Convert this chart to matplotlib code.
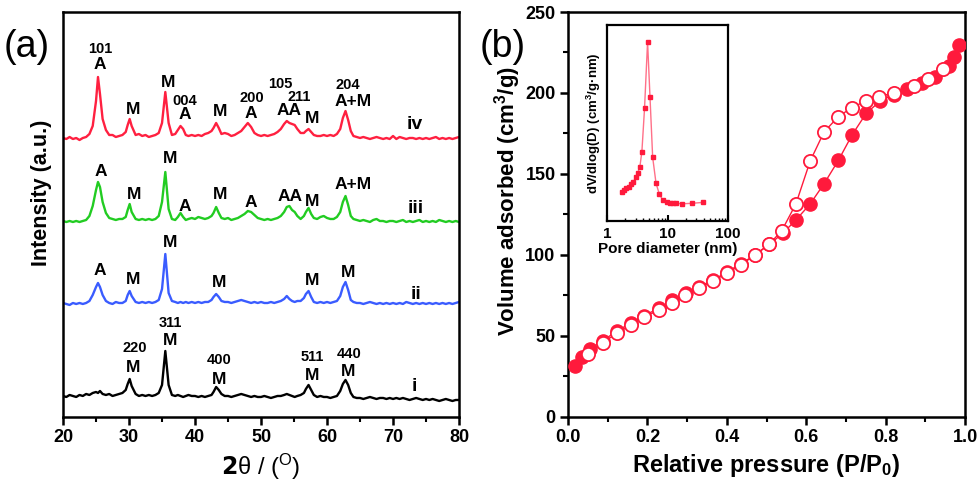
import numpy as np
import matplotlib
import matplotlib.pyplot as plt
from matplotlib.ticker import MultipleLocator, LogLocator, NullFormatter, NullLocator

matplotlib.use("Agg")

plt.rcParams["font.family"] = ["Liberation Sans", "DejaVu Sans"]
plt.rcParams["font.weight"] = "bold"
plt.rcParams["mathtext.default"] = "regular"
plt.rcParams["axes.linewidth"] = 1.8

# ---- (a) XRD patterns, intensity above each baseline (a.u.) ----
two_theta = [
    20.0, 20.5, 21.0, 21.5, 22.0, 22.5, 23.0, 23.5, 24.0, 24.5,
    25.0, 25.3, 25.6, 26.0, 26.5, 27.0, 27.5, 28.0, 28.5, 29.0, 29.5,
    29.8, 30.1, 30.4, 31.0, 31.5, 32.0, 32.5, 33.0, 33.5, 34.0, 34.5, 35.0,
    35.5, 36.0, 36.5, 37.0, 37.4, 37.8, 38.2, 38.6, 39.0, 39.5,
    40.0, 40.5, 41.0, 41.5, 42.0, 42.5, 42.8, 43.2, 43.6, 44.0, 44.5,
    45.0, 45.5, 46.0, 46.5, 47.0, 47.5, 48.0, 48.5, 49.0, 49.5,
    50.0, 50.5, 51.0, 51.5, 52.0, 52.5, 53.0, 53.5, 53.9, 54.3, 54.7,
    55.1, 55.5, 56.0, 56.5, 56.8, 57.2, 57.6, 58.0, 58.5, 59.0, 59.5,
    60.0, 60.5, 61.0, 61.5, 62.0, 62.4, 62.8, 63.2, 63.6, 64.0, 64.5,
    65.0, 65.5, 66.0, 66.5, 67.0, 67.5, 68.0, 68.5, 69.0, 69.5,
    70.0, 70.5, 71.0, 71.5, 72.0, 72.5, 73.0, 73.5, 74.0, 74.5,
    75.0, 75.5, 76.0, 76.5, 77.0, 77.5, 78.0, 78.5, 79.0, 79.5, 80.0,
]

xrd_iv = [
    1, 0, 2, 0, 1, -1, 1, 2, 5, 13,
    38, 62, 45, 20, 9, 4, 4, 2, 3, 4, 7,
    14, 20, 13, 4, 5, 3, 4, 2, 3, 4, 6, 16,
    47, 16, 4, 5, 9, 13, 10, 4, 3, 4,
    3, 4, 3, 5, 6, 8, 11, 16, 11, 5, 6,
    5, 3, 4, 6, 8, 12, 16, 12, 6, 4,
    3, 4, 3, 4, 5, 7, 10, 15, 18, 16, 15,
    14, 10, 6, 6, 8, 10, 7, 4, 3, 3, 4,
    3, 4, 3, 5, 10, 21, 28, 19, 8, 3, 2,
    1, 2, 1, 0, 1, 2, 1, 0, 1, 0,
    3, 0, 2, 1, 0, 1, 1, 0, 1, 0,
    1, 0, 1, 2, 0, 1, 0, 1, 0, 1, 2,
]

xrd_iii = [
    1, 0, 1, 0, 1, 0, 1, 2, 6, 16,
    32, 40, 35, 20, 9, 4, 3, 2, 3, 3, 5,
    12, 18, 10, 3, 2, 3, 2, 3, 2, 3, 6, 20,
    50, 13, 3, 2, 5, 9, 5, 2, 3, 4,
    3, 5, 4, 3, 4, 6, 9, 15, 9, 4, 3,
    4, 2, 3, 4, 6, 8, 11, 10, 7, 4,
    3, 2, 3, 2, 3, 4, 6, 10, 15, 16, 12,
    10, 6, 3, 6, 10, 14, 8, 4, 3, 5, 6,
    4, 3, 3, 5, 10, 20, 26, 17, 6, 3, 2,
    1, 2, 1, 0, 2, 3, 1, 1, 0, 1,
    1, 0, 1, 2, 0, 1, 0, 1, 2, 0,
    1, 0, 1, 0, 2, 1, 0, 1, 0, 1, 0,
]

xrd_ii = [
    1, 0, -1, 1, 0, 1, 0, 1, 3, 9,
    17, 21, 17, 9, 3, 1, 0, 2, 1, 1, 3,
    9, 13, 8, 2, 1, 2, 1, 2, 1, 2, 4, 15,
    50, 11, 3, 2, 1, 2, 1, 2, 1, 2,
    1, 2, 1, 2, 2, 4, 7, 10, 7, 3, 2,
    2, 1, 2, 3, 4, 3, 2, 1, 2, 1,
    2, 1, 1, 2, 1, 2, 3, 5, 8, 5, 3,
    2, 3, 3, 6, 10, 13, 7, 2, 1, 2, 1,
    2, 1, 2, 3, 8, 17, 22, 14, 4, 2, 1,
    1, 0, 1, 2, 1, 0, 1, 0, 1, 0,
    1, 0, 1, 0, 2, 1, 0, 1, 0, 1,
    0, 1, 0, 1, 0, 1, 0, 1, 0, 1, 2,
]

xrd_i = [
    2, 1, 3, 2, 1, 3, 2, 4, 3, 5,
    6, 5, 7, 4, 3, 4, 2, 3, 4, 5, 8,
    14, 19, 12, 4, 2, 3, 2, 3, 2, 3, 5, 13,
    47, 13, 3, 2, 3, 2, 1, 2, 3, 2,
    2, 1, 2, 1, 2, 3, 6, 11, 8, 4, 2,
    2, 1, 2, 3, 4, 3, 2, 1, 2, 1,
    1, 2, 1, 0, 1, 2, 2, 3, 4, 3, 2,
    1, 2, 3, 5, 9, 13, 8, 3, 1, 2, 1,
    1, 0, 1, 2, 7, 14, 18, 13, 5, 1, 0,
    0, -1, 0, 1, 0, -1, 0, 0, -1, 0,
    -1, 0, -1, 0, -1, -2, -1, 0, -1, -2,
    -1, -2, -1, -2, -3, -2, -1, -2, -3, -2, -2,
]

xrd_names = ["i", "ii", "iii", "iv"]

# peak labels (text, 2theta, height)
peak_text = ["101", "A", "M", "M", "004", "A", "M", "200", "A", "105", "AA", "211", "M", "204", "A+M",
             "A", "M", "M", "A", "M", "A", "AA", "M", "A+M",
             "M", "A", "M", "M", "M", "M",
             "311", "M", "220", "M", "400", "M", "511", "M", "440", "M"]
peak_x = [25.6, 25.6, 30.6, 35.9, 38.5, 38.5, 43.8, 48.6, 48.5, 52.9, 54.3, 55.8, 57.7, 63.2, 63.9,
          25.8, 30.8, 36.2, 38.5, 43.8, 48.5, 54.4, 57.7, 63.9,
          36.2, 25.6, 30.6, 43.6, 57.7, 63.2,
          36.2, 36.2, 30.8, 30.6, 43.6, 43.6, 57.7, 57.7, 63.3, 63.2]
peak_y = [368, 352, 307, 334, 316, 302, 305, 319, 303, 333, 306, 320, 298, 332, 315,
          245, 222, 258, 210, 222, 214, 220, 215, 232,
          174, 146, 137, 134, 136, 144,
          94, 76, 69, 49, 57, 37, 60, 41, 63, 45]

# ---- (b) N2 isotherm ----
p_ads = [0.018, 0.035, 0.055, 0.087, 0.123, 0.158, 0.191, 0.228, 0.263, 0.296, 0.33, 0.366,
         0.40, 0.435, 0.471, 0.507, 0.541, 0.574, 0.61, 0.645, 0.681, 0.716, 0.751, 0.786,
         0.82, 0.855, 0.891, 0.924, 0.96, 0.972, 0.986]
v_ads = [31.5, 36.8, 42.0, 47.0, 53.0, 58.0, 62.5, 67.0, 72.0, 76.5, 80.5, 84.5,
         89.5, 94.5, 100.0, 106.5, 113.4, 121.6, 131.5, 144.0, 158.4, 174.3, 187.4, 195.0,
         199.0, 202.2, 206.4, 210.0, 216.7, 222.4, 229.6]
p_des = [0.051, 0.087, 0.123, 0.158, 0.191, 0.228, 0.263, 0.295, 0.33, 0.366, 0.40, 0.435,
         0.471, 0.507, 0.538, 0.574, 0.61, 0.645, 0.681, 0.715, 0.75, 0.784, 0.82, 0.872,
         0.908, 0.945]
v_des = [38.9, 45.9, 51.6, 56.8, 61.5, 66.0, 70.2, 75.3, 79.4, 84.0, 88.7, 93.8,
         100.0, 106.8, 114.8, 131.5, 158.0, 176.0, 185.4, 191.0, 195.0, 197.7, 200.2, 204.3,
         208.5, 214.6]

# pore size distribution (inset)
pore_d = [1.74, 1.9, 2.08, 2.31, 2.52, 2.73, 2.99, 3.23, 3.49, 3.77, 4.17, 4.68,
          5.13, 5.68, 6.46, 7.35, 8.34, 9.73, 11.1, 12.3, 14.0, 17.6, 24.9, 39.0]
pore_dv = [14.9, 15.8, 16.7, 17.5, 18.9, 20.0, 22.3, 24.6, 27.6, 35.4, 57.5, 91.5,
           63.4, 32.5, 19.2, 13.6, 10.7, 9.8, 9.3, 9.0, 9.0, 8.8, 9.0, 9.5]

xrd_colors = ["black", "#3a5cff", "#22cc22", "#ff2040"]
xrd_offsets = [19, 113, 195, 278]
name_pos = [(73.2, 30), (73.5, 122), (73.5, 208), (73.3, 292)]
red = "#ff1a3c"


def bold_ticks(ax):
    for lbl in ax.get_xticklabels() + ax.get_yticklabels():
        lbl.set_fontweight("bold")


fig = plt.figure(figsize=(9.8, 4.82), dpi=100)

# ---------- panel (a) ----------
ax1 = fig.add_axes([0.0643, 0.1349, 0.4041, 0.8402])
series = [xrd_i, xrd_ii, xrd_iii, xrd_iv]
for vals, col, off in zip(series, xrd_colors, xrd_offsets):
    ax1.plot(two_theta, np.array(vals) + off, color=col, lw=1.7)
for name, (nx, ny) in zip(xrd_names, name_pos):
    ax1.text(nx, ny, name, ha="center", va="center", fontsize=14, fontweight="bold")
for t, px, py in zip(peak_text, peak_x, peak_y):
    fs = 10.5 if t.isdigit() else 12.5
    ax1.text(px, py, t, ha="center", va="center", fontsize=fs, fontweight="bold")

ax1.set_xlim(20, 80)
ax1.set_ylim(0, 405)
ax1.yaxis.set_major_locator(NullLocator())
ax1.xaxis.set_major_locator(MultipleLocator(10))
ax1.xaxis.set_minor_locator(MultipleLocator(5))
ax1.tick_params(axis="x", which="major", direction="out", length=6, width=1.8, labelsize=13, pad=3)
ax1.tick_params(axis="x", which="minor", direction="out", length=3.5, width=1.5)
bold_ticks(ax1)
ax1.set_xlabel("$\\mathbf{2}$θ / ($^{O}$)", fontsize=17, fontweight="normal", labelpad=4)
fig.text(41 / 980, 1 - 193 / 482, "Intensity (a.u.)", rotation=90, ha="center", va="center",
         fontsize=15.5, fontweight="bold")
fig.text(27 / 980, 1 - 47 / 482, "(a)", ha="center", va="center", fontsize=27, fontweight="normal")

# ---------- panel (b) ----------
ax2 = fig.add_axes([0.5796, 0.1349, 0.4051, 0.8402])
ax2.plot(p_ads, v_ads, "-o", color=red, lw=1.0, ms=9.5, mfc=red, mec=red, zorder=3)
ax2.plot(p_des, v_des, "-o", color=red, lw=1.0, ms=9.5, mfc="white", mec=red, mew=1.3, zorder=4)
ax2.set_xlim(0, 1.0)
ax2.set_ylim(0, 250)
ax2.set_xticks([0, 0.2, 0.4, 0.6, 0.8, 1.0])
ax2.set_xticklabels(["0.0", "0.2", "0.4", "0.6", "0.8", "1.0"])
ax2.xaxis.set_minor_locator(MultipleLocator(0.1))
ax2.yaxis.set_major_locator(MultipleLocator(50))
ax2.yaxis.set_minor_locator(MultipleLocator(25))
ax2.tick_params(which="major", direction="out", length=6, width=1.8, labelsize=13, pad=3)
ax2.tick_params(which="minor", direction="out", length=3.5, width=1.5)
bold_ticks(ax2)
ax2.set_xlabel("Relative pressure (P/P$_0$)", fontsize=17, fontweight="bold", labelpad=4)
fig.text(508 / 980, 1 - 201 / 482, "Volume adsorbed (cm$^3$/g)", rotation=90, ha="center",
         va="center", fontsize=16, fontweight="bold")
fig.text(503 / 980, 1 - 47 / 482, "(b)", ha="center", va="center", fontsize=27, fontweight="normal")

# ---------- inset ----------
ax3 = fig.add_axes([0.6194, 0.5415, 0.1235, 0.4066])
ax3.plot(pore_d, pore_dv, "-s", color="#ff7088", lw=1.0, ms=3.5, mfc=red, mec=red)
ax3.set_xscale("log")
ax3.set_xlim(1, 100)
ax3.set_ylim(0, 100)
ax3.yaxis.set_major_locator(NullLocator())
ax3.xaxis.set_minor_locator(LogLocator(base=10, subs=np.arange(2, 10), numticks=10))
ax3.xaxis.set_minor_formatter(NullFormatter())
ax3.set_xticks([1, 10, 100])
ax3.set_xticklabels(["1", "10", "100"])
ax3.tick_params(axis="x", which="major", direction="in", length=4, width=1.5, labelsize=11, pad=4)
ax3.tick_params(axis="x", which="minor", direction="in", length=2.5, width=1.0)
bold_ticks(ax3)
for sp in ax3.spines.values():
    sp.set_linewidth(1.6)
ax3.set_xlabel("Pore diameter (nm)", fontsize=11, fontweight="bold", labelpad=1)
ax3.set_ylabel("dV/dlog(D) (cm$^3$/g·nm)", fontsize=9.5, fontweight="bold", labelpad=3)

fig.savefig("out.png", dpi=100)
